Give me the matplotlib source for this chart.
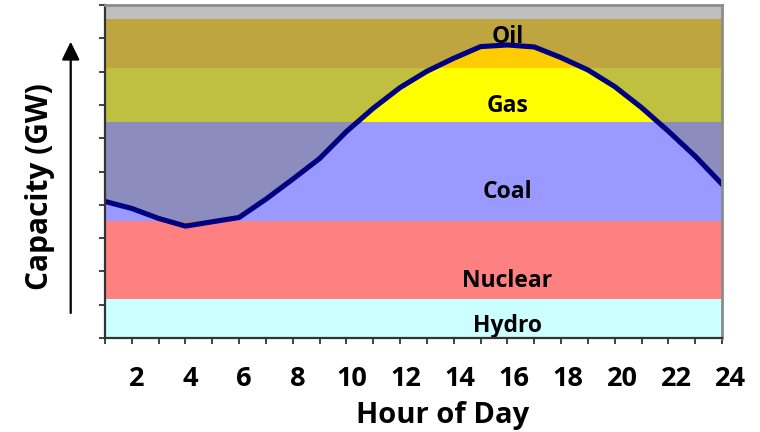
import matplotlib.pyplot as plt
import matplotlib.transforms as mtransforms

W, H = 760, 432

# hourly demand (share of the capacity axis, 0-100)
hours = list(range(1, 25))
demand = [41, 38.9, 35.9, 33.6, 34.9, 36.2, 41.7, 47.7, 53.9, 62.0, 69.0, 75.2,
          80.1, 84.0, 87.5, 88.0, 87.4, 84.2, 80.5, 75.5, 69.2, 62.1, 54.6, 46.2]

# stacked supply bands: name, bottom, top
band_names = ["Hydro", "Nuclear", "Coal", "Gas", "Oil", ""]
band_edges = [0, 11.7, 35.0, 65.0, 81.0, 95.7, 100]
band_colors = ["#CCFFFF", "#FF8080", "#9999FF", "#FFFF00", "#FFCC00", "#FFFFFF"]
label_hour = 16
label_y = [1.8, 15.3, 42.0, 67.8, 88.5]

tick_hours = list(range(1, 25))
label_hours = list(range(2, 25, 2))

plt.rcParams["font.family"] = ["Open Sans", "DejaVu Sans"]

fig = plt.figure(figsize=(W / 100, H / 100), dpi=100)
ax = fig.add_axes([105 / W, 94 / H, 617 / W, 333 / H])

for i, name in enumerate(band_names):
    ax.axhspan(band_edges[i], band_edges[i + 1], color=band_colors[i], lw=0, zorder=1)

# darken everything above the demand curve
ax.fill_between(hours, demand, 100, color="#808080", alpha=0.5, lw=0, zorder=2)
ax.plot(hours, demand, color="#000080", lw=3.7, solid_joinstyle="round", zorder=3)

for name, y in zip(band_names, label_y):
    ax.text(label_hour, y, name, ha="center", va="baseline", fontsize=16.5,
            fontweight="bold", color="black", zorder=4)

ax.set_xlim(1, 24)
ax.set_ylim(0, 100)
ax.set_yticks(range(0, 101, 10))
ax.set_yticklabels([])
ax.set_xticks(tick_hours)
ax.set_xticklabels([])

# hour labels drift a little right of their ticks, as in the original
for h in label_hours:
    dx = (4.5 + 0.17 * (h - 2)) / 100
    shift = mtransforms.ScaledTranslation(dx, -48 / 100, fig.dpi_scale_trans)
    ax.text(h, 0, str(h), transform=ax.get_xaxis_transform() + shift,
            ha="center", va="baseline", fontsize=19.5, fontweight="bold",
            clip_on=False)

ax.tick_params(axis="both", direction="out", length=4.5, width=1.3, color="#333333")
for side in ["left", "bottom"]:
    ax.spines[side].set_color("#333333")
    ax.spines[side].set_linewidth(1.6)
for side in ["top", "right"]:
    ax.spines[side].set_color("#8C8C8C")
    ax.spines[side].set_linewidth(2)
for sp in ax.spines.values():
    sp.set_zorder(5)

fig.text(443 / W, 8.7 / H, "Hour of Day", ha="center", va="baseline",
         fontsize=21, fontweight="bold")
fig.text(40 / W, 245.5 / H, "Capacity (GW)", ha="center", va="center",
         rotation=90, fontsize=21.5, fontweight="bold")

ax.annotate("", xy=(70.7, H - 41.7), xytext=(70.7, H - 313),
            xycoords="figure pixels", textcoords="figure pixels",
            arrowprops=dict(arrowstyle="-|>,head_length=0.55,head_width=0.27",
                            mutation_scale=20, lw=1.6, color="black",
                            shrinkA=0, shrinkB=0))

fig.savefig("out.png", dpi=100)
